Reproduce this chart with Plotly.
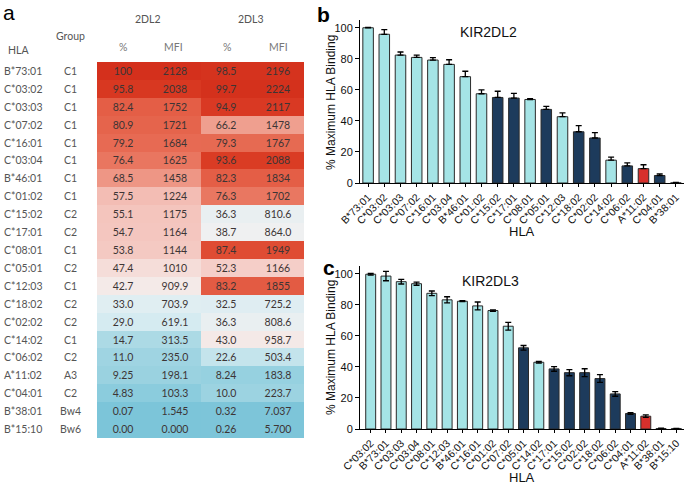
import plotly.graph_objects as go

W, H = 685, 484

# ---------------- Table data (panel a) ----------------
hla = ["B*73:01", "C*03:02", "C*03:03", "C*07:02", "C*16:01", "C*03:04", "B*46:01",
       "C*01:02", "C*15:02", "C*17:01", "C*08:01", "C*05:01", "C*12:03", "C*18:02",
       "C*02:02", "C*14:02", "C*06:02", "A*11:02", "C*04:01", "B*38:01", "B*15:10"]
group = ["C1", "C1", "C1", "C1", "C1", "C1", "C1", "C1", "C2", "C2", "C1", "C2", "C1",
         "C2", "C2", "C1", "C2", "A3", "C2", "Bw4", "Bw6"]
dl2_pct = ["100", "95.8", "82.4", "80.9", "79.2", "76.4", "68.5", "57.5", "55.1", "54.7",
           "53.8", "47.4", "42.7", "33.0", "29.0", "14.7", "11.0", "9.25", "4.83", "0.07", "0.00"]
dl2_mfi = ["2128", "2038", "1752", "1721", "1684", "1625", "1458", "1224", "1175", "1164",
           "1144", "1010", "909.9", "703.9", "619.1", "313.5", "235.0", "198.1", "103.3", "1.545", "0.000"]
dl3_pct = ["98.5", "99.7", "94.9", "66.2", "79.3", "93.6", "82.3", "76.3", "36.3", "38.7",
           "87.4", "52.3", "83.2", "32.5", "36.3", "43.0", "22.6", "8.24", "10.0", "0.32", "0.26"]
dl3_mfi = ["2196", "2224", "2117", "1478", "1767", "2088", "1834", "1702", "810.6", "864.0",
           "1949", "1166", "1855", "725.2", "808.6", "958.7", "503.4", "183.8", "223.7", "7.037", "5.700"]
col_headers = ["%", "MFI", "%", "MFI"]
receptors = ["2DL2", "2DL3"]

# ---------------- Bar data (panel b) ----------------
b_hla = ["B*73:01", "C*03:02", "C*03:03", "C*07:02", "C*16:01", "C*03:04", "B*46:01",
         "C*01:02", "C*15:02", "C*17:01", "C*08:01", "C*05:01", "C*12:03", "C*18:02",
         "C*02:02", "C*14:02", "C*06:02", "A*11:02", "C*04:01", "B*38:01"]
b_val = [100, 95.8, 82.4, 80.9, 79.2, 76.4, 68.5, 57.5, 55.1, 54.7, 53.8, 47.4, 42.7,
         33.0, 29.0, 14.7, 11.0, 9.25, 4.83, 0.07]
b_err = [0.3, 3.0, 2.0, 1.5, 1.5, 3.0, 3.5, 2.5, 4.0, 3.0, 0.5, 2.0, 2.5, 4.0, 3.5,
         2.0, 2.0, 2.5, 1.0, 0.3]
b_grp = ["C1", "C1", "C1", "C1", "C1", "C1", "C1", "C1", "C2", "C2", "C1", "C2", "C1",
         "C2", "C2", "C1", "C2", "A3", "C2", "Bw4"]

# ---------------- Bar data (panel c) ----------------
c_hla = ["C*03:02", "B*73:01", "C*03:03", "C*03:04", "C*08:01", "C*12:03", "B*46:01",
         "C*16:01", "C*01:02", "C*07:02", "C*05:01", "C*14:02", "C*17:01", "C*15:02",
         "C*02:02", "C*18:02", "C*06:02", "C*04:01", "A*11:02", "B*38:01", "B*15:10"]
c_val = [99.7, 98.5, 94.9, 93.6, 87.4, 83.2, 82.3, 79.3, 76.3, 66.2, 52.3, 43.0, 38.7,
         36.3, 36.3, 32.5, 22.6, 10.0, 8.24, 0.32, 0.26]
c_err = [0.5, 3.0, 1.5, 1.0, 1.5, 2.0, 0.3, 2.5, 0.5, 2.5, 1.5, 0.5, 1.5, 2.0, 2.5,
         2.5, 1.5, 0.5, 0.8, 0.2, 0.2]
c_grp = ["C1", "C1", "C1", "C1", "C1", "C1", "C1", "C1", "C1", "C1", "C2", "C1", "C2",
         "C2", "C2", "C2", "C2", "C2", "A3", "Bw4", "Bw6"]

grp_color = {"C1": "#a5e4e6", "C2": "#1d3b5c", "A3": "#d8302c", "Bw4": "#a5e4e6", "Bw6": "#a5e4e6"}


def px(x):
    return x / W


def py(y):
    return 1 - y / H


fig = go.Figure()

# ---------------- Heatmap table ----------------
z, txt = [], []
for i in range(len(hla)):
    p2, p3 = float(dl2_pct[i]), float(dl3_pct[i])
    z.append([p2, p2, p3, p3])
    txt.append([dl2_pct[i], dl2_mfi[i], dl3_pct[i], dl3_mfi[i]])

cscale = [[0.0, "#7cc5d9"], [0.1, "#9cd3e1"], [0.2, "#bde1ea"], [0.3, "#d8ecf2"],
          [0.4, "#f3f1f1"], [0.5, "#f6d6d1"], [0.6, "#f2b5aa"], [0.7, "#ed917f"],
          [0.8, "#e6674f"], [0.9, "#dd4229"], [1.0, "#d4301c"]]

fig.add_trace(go.Heatmap(
    z=z, x=[0, 1, 2, 3], y=list(range(len(hla))), text=txt,
    texttemplate="%{text}", textfont=dict(family="Lato", size=10.5, color="#3d3535"),
    colorscale=cscale, zmin=0, zmax=100, showscale=False, hoverinfo="skip",
    xaxis="x", yaxis="y"))

# ---------------- Bars b ----------------
fig.add_trace(go.Bar(
    x=b_hla, y=b_val, width=0.65,
    marker=dict(color=[grp_color[g] for g in b_grp], line=dict(color="#2a2a2a", width=1)),
    error_y=dict(type="data", array=b_err, arrayminus=[0] * len(b_err), symmetric=False,
                 color="black", thickness=1.3, width=3),
    xaxis="x2", yaxis="y2", hoverinfo="skip"))

# ---------------- Bars c ----------------
fig.add_trace(go.Bar(
    x=c_hla, y=c_val, width=0.65,
    marker=dict(color=[grp_color[g] for g in c_grp], line=dict(color="#2a2a2a", width=1)),
    error_y=dict(type="data", array=c_err, symmetric=True,
                 color="black", thickness=1.3, width=3),
    xaxis="x3", yaxis="y3", hoverinfo="skip"))

tickfont_x = dict(family="Liberation Sans, Arial", size=10.5, color="#111")
tickfont_y = dict(family="Liberation Sans, Arial", size=11, color="#111")


def note(x, y, text, font, yref="paper", **kw):
    return dict(x=px(x), y=(y if yref != "paper" else py(y)), xref="paper", yref=yref,
                text=text, showarrow=False, xanchor="center", yanchor="middle",
                font=font, **kw)


lato = dict(family="Lato", size=10.5, color="#555")
ann = []
# table row labels
for i, (h, g) in enumerate(zip(hla, group)):
    ann.append(note(23, i, h, lato, yref="y"))
    ann.append(note(70, i, g, lato, yref="y"))
# table headers
ann.append(note(18, 50, "HLA", lato))
ann.append(note(70, 36, "Group", lato))
for rx, rname in zip([148, 251], receptors):
    ann.append(note(rx, 19, rname, lato))
for cx, ch in zip([123, 174, 227, 278], col_headers):
    ann.append(note(cx, 47, ch, dict(family="Lato", size=10.5, color="#777")))

# panel letters
big = dict(family="Liberation Sans, Arial", size=21, color="black")
ann.append(note(9, 12, "a", big))
ann.append(note(323, 15, "<b>b</b>", big))
ann.append(note(329, 267, "<b>c</b>", big))

# chart titles
ttl = dict(family="Liberation Sans, Arial", size=14, color="#111")
ann.append(note(488, 32, "KIR2DL2", ttl))
ann.append(note(491, 281, "KIR2DL3", ttl))
# axis titles
for yc in [103, 348]:
    ann.append(note(331, yc, "% Maximum HLA Binding",
                    dict(family="Liberation Sans, Arial", size=12, color="#111"), textangle=-90))
for yc in [232, 477]:
    ann.append(note(522, yc, "HLA", dict(family="Liberation Sans, Arial", size=13, color="#111")))

fig.update_layout(
    width=W, height=H, margin=dict(l=0, r=0, t=0, b=0),
    paper_bgcolor="white", plot_bgcolor="white", showlegend=False,
    annotations=ann,
    xaxis=dict(domain=[px(97), px(304)], range=[-0.5, 3.5], visible=False, fixedrange=True),
    yaxis=dict(domain=[py(438), py(62)], range=[20.5, -0.5], visible=False, fixedrange=True),
    xaxis2=dict(domain=[px(360), px(684)], anchor="y2", type="category", range=[-0.5, 19.5],
                showline=True, linecolor="black", linewidth=1, ticks="outside", ticklen=3,
                tickcolor="black", tickangle=-45, tickfont=tickfont_x, showgrid=False,
                automargin=False),
    yaxis2=dict(domain=[py(183), py(20)], anchor="x2", range=[0, 105], tickvals=[0, 20, 40, 60, 80, 100],
                showline=True, linecolor="black", linewidth=1, ticks="outside", ticklen=4,
                tickcolor="black", tickfont=tickfont_y, showgrid=False, zeroline=False,
                automargin=False),
    xaxis3=dict(domain=[px(360), px(684)], anchor="y3", type="category", range=[-0.7, 20.5],
                showline=True, linecolor="black", linewidth=1, ticks="outside", ticklen=3,
                tickcolor="black", tickangle=-45, tickfont=tickfont_x, showgrid=False,
                automargin=False),
    yaxis3=dict(domain=[py(429), py(266)], anchor="x3", range=[0, 105], tickvals=[0, 20, 40, 60, 80, 100],
                showline=True, linecolor="black", linewidth=1, ticks="outside", ticklen=4,
                tickcolor="black", tickfont=tickfont_y, showgrid=False, zeroline=False,
                automargin=False),
)

fig.write_html("out.html", config={"displayModeBar": False},
               post_script="document.body.style.margin='0';")
